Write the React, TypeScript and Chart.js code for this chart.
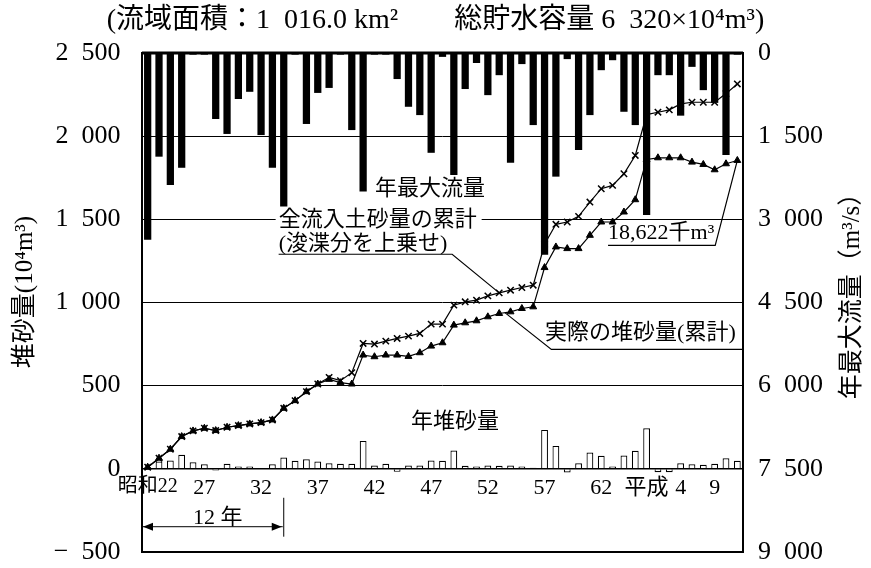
import { useEffect, useRef } from 'react';
import { Chart, registerables } from 'chart.js';

Chart.register(...registerables);

const SERIF = "'Liberation Serif', 'Noto Sans CJK JP', serif";

const categories = [
  '1947', '1948', '1949', '1950', '1951', '1952', '1953', '1954', '1955', '1956',
  '1957', '1958', '1959', '1960', '1961', '1962', '1963', '1964', '1965', '1966',
  '1967', '1968', '1969', '1970', '1971', '1972', '1973', '1974', '1975', '1976',
  '1977', '1978', '1979', '1980', '1981', '1982', '1983', '1984', '1985', '1986',
  '1987', '1988', '1989', '1990', '1991', '1992', '1993', '1994', '1995', '1996',
  '1997', '1998', '1999',
];

const xTickLabels = [
  '昭和22', '', '', '', '', '27', '', '', '', '',
  '32', '', '', '', '', '37', '', '', '', '',
  '42', '', '', '', '', '47', '', '', '', '',
  '52', '', '', '', '', '57', '', '', '', '',
  '62', '', '', '', '平成', '', '', '4', '', '',
  '9', '', '',
];

// 年最大流量 (m3/s)
const maxFlow = [
  3370, 1870, 2380, 2070, 30, 30, 1190, 1460, 830, 700,
  1480, 2070, 2770, 30, 1280, 720, 630, 30, 1390, 2500,
  30, 30, 470, 970, 1120, 1800, 70, 2200, 650, 180,
  760, 400, 1980, 200, 1300, 3640, 2230, 110, 1750, 1120,
  310, 130, 1060, 1300, 2920, 400, 400, 1130, 250, 670,
  900, 1840, 30,
];

// 全流入土砂量の累計（浚渫分を上乗せ） (10^4 m3)
const cumTotal = [
  10, 64, 118, 194, 228, 244, 230, 250, 260, 270,
  278, 294, 364, 410, 464, 510, 550, 530, 578, 754,
  750, 768, 784, 798, 814, 870, 870, 984, 1004, 1014,
  1040, 1058, 1074, 1090, 1104, 1350, 1470, 1484, 1518, 1604,
  1684, 1704, 1774, 1884, 2130, 2144, 2158, 2194, 2204, 2204,
  2204, 2256, 2314,
];

// 実際の堆砂量（累計） (10^4 m3)
const cumActual = [
  10, 64, 118, 194, 228, 244, 230, 250, 260, 270,
  278, 294, 364, 410, 464, 510, 538, 518, 510, 684,
  674, 684, 684, 676, 698, 738, 758, 864, 878, 890,
  914, 934, 944, 964, 974, 1210, 1334, 1324, 1324, 1404,
  1484, 1484, 1544, 1618, 1860, 1870, 1870, 1870, 1844, 1830,
  1798, 1834, 1854,
];

// 年堆砂量 (10^4 m3)
const annualSed = [
  10, 44, 50, 84, 40, 28, -10, 30, 14, 14,
  0, 28, 68, 48, 58, 44, 34, 30, 30, 168,
  20, 30, -18, 20, 20, 50, 48, 110, 18, 14,
  20, 18, 20, 14, 6, 234, 138, -22, 34, 98,
  78, 14, 80, 108, 244, -20, -20, 34, 28, 24,
  30, 64, 48,
];

const GAP = '  ';

const fmtNum = (v: number) => {
  const a = Math.abs(v);
  let s: string;
  if (a >= 1000) {
    const r = a % 1000;
    s = Math.floor(a / 1000) + GAP + String(r).padStart(3, '0');
  } else {
    s = String(a);
  }
  return v < 0 ? '\u2212' + GAP + s : s;
};

const annotPlugin = {
  id: 'annot',
  afterDatasetsDraw(chart: any) {
    const { ctx, chartArea: ca } = chart;
    const xs = chart.scales.x;
    const ys = chart.scales.y;
    const px = (i: number) => xs.getPixelForValue(i);
    const py = (v: number) => ys.getPixelForValue(v);
    ctx.save();
    ctx.strokeStyle = '#000';
    ctx.fillStyle = '#000';

    // zero line
    ctx.lineWidth = 1.5;
    ctx.beginPath();
    ctx.moveTo(ca.left, py(0));
    ctx.lineTo(ca.right, py(0));
    ctx.stroke();

    // frame
    ctx.lineWidth = 2;
    ctx.strokeRect(ca.left, ca.top, ca.right - ca.left, ca.bottom - ca.top);
    ctx.lineWidth = 3;
    ctx.beginPath();
    ctx.moveTo(ca.left, ca.top);
    ctx.lineTo(ca.right, ca.top);
    ctx.stroke();

    ctx.font = `22px ${SERIF}`;
    ctx.textBaseline = 'middle';
    ctx.lineWidth = 1.2;

    // 年最大流量
    ctx.textAlign = 'center';
    ctx.fillText('年最大流量', px(24.9), py(1680));

    // 全流入土砂量の累計
    ctx.textAlign = 'left';
    const t1 = '全流入土砂量の累計';
    const w1 = ctx.measureText(t1).width;
    const x1 = px(11.55);
    ctx.fillStyle = '#fff';
    ctx.fillRect(x1 - 3, py(1495) - 12, w1 + 8, 24);
    ctx.fillStyle = '#000';
    ctx.fillText(t1, x1, py(1495));
    ctx.fillText('(浚渫分を上乗せ)', x1, py(1350));
    ctx.beginPath();
    ctx.moveTo(x1, py(1290));
    ctx.lineTo(px(26.85), py(1290));
    ctx.lineTo(px(31), py(cumTotal[31]));
    ctx.stroke();

    // 実際の堆砂量(累計)
    ctx.fillText('実際の堆砂量(累計)', px(35.05), py(816));
    ctx.beginPath();
    ctx.moveTo(px(31.5), py((cumActual[31] + cumActual[32]) / 2));
    ctx.lineTo(px(35.6), py(718));
    ctx.lineTo(ca.right, py(718));
    ctx.stroke();

    // 18,622千m3
    ctx.fillText('18,622千m³', px(40.6), py(1416));
    ctx.beginPath();
    ctx.moveTo(px(40.6), py(1344));
    ctx.lineTo(px(50.05), py(1344));
    ctx.lineTo(px(52), py(cumActual[52]));
    ctx.stroke();

    // 年堆砂量
    ctx.textAlign = 'center';
    ctx.fillText('年堆砂量', px(27.1), py(282));

    // 12年 arrow
    const xl = ca.left;
    const xr = px(12);
    const ay = py(-348);
    ctx.fillText('12 年', (xl + xr) / 2 + 5, py(-294));
    ctx.lineWidth = 1;
    ctx.beginPath();
    ctx.moveTo(xl, ay);
    ctx.lineTo(xr - 1, ay);
    ctx.moveTo(xr, py(-174));
    ctx.lineTo(xr, py(-408));
    ctx.stroke();
    const head = (x: number, dir: number) => {
      ctx.beginPath();
      ctx.moveTo(x, ay);
      ctx.lineTo(x + dir * 10, ay - 4);
      ctx.lineTo(x + dir * 10, ay + 4);
      ctx.closePath();
      ctx.fill();
    };
    head(xl + 1, 1);
    head(xr - 2, -1);

    // axis titles
    ctx.font = `25px ${SERIF}`;
    const vtext = (t: string, x: number, y: number) => {
      ctx.save();
      ctx.translate(x, y);
      ctx.rotate(-Math.PI / 2);
      ctx.textAlign = 'center';
      ctx.textBaseline = 'middle';
      ctx.fillText(t, 0, 0);
      ctx.restore();
    };
    vtext('堆砂量(10⁴m³)', 25, 292);
    vtext('年最大流量（m³/s）', 852, 290);

    ctx.restore();
  },
};

export default function App() {
  const ref = useRef<HTMLCanvasElement | null>(null);

  useEffect(() => {
    if (!ref.current) return;
    const chart = new Chart(ref.current, {
      type: 'bar',
      data: {
        labels: categories,
        datasets: [
          {
            type: 'bar',
            label: '年最大流量',
            data: maxFlow,
            yAxisID: 'y1',
            backgroundColor: '#000',
            borderWidth: 0,
            grouped: false,
            barPercentage: 0.64,
            categoryPercentage: 1,
            order: 0,
          } as any,
          {
            type: 'line',
            label: '全流入土砂量の累計',
            data: cumTotal,
            yAxisID: 'y',
            borderColor: '#000',
            borderWidth: 1.2,
            backgroundColor: '#000',
            pointStyle: 'crossRot',
            pointRadius: 4.5,
            pointBorderWidth: 1.5,
            pointBorderColor: '#000',
            tension: 0,
            order: 1,
          } as any,
          {
            type: 'line',
            label: '実際の堆砂量(累計)',
            data: cumActual,
            yAxisID: 'y',
            borderColor: '#000',
            borderWidth: 1.2,
            backgroundColor: '#000',
            pointStyle: 'triangle',
            pointRadius: 4,
            pointBorderWidth: 1,
            pointBackgroundColor: '#000',
            pointBorderColor: '#000',
            tension: 0,
            order: 1,
          } as any,
          {
            type: 'bar',
            label: '年堆砂量',
            data: annualSed,
            yAxisID: 'y',
            backgroundColor: '#fff',
            borderColor: '#000',
            borderWidth: 1.2,
            grouped: false,
            barPercentage: 0.6,
            categoryPercentage: 1,
            order: 2,
          } as any,
        ],
      },
      options: {
        responsive: true,
        maintainAspectRatio: false,
        animation: false,
        layout: { padding: { left: 0, right: 0, top: 0, bottom: 16 } },
        plugins: {
          legend: { display: false },
          tooltip: { enabled: false },
          title: {
            display: true,
            text: '(流域面積：1  016.0 km²　　総貯水容量 6  320×10⁴m³)',
            color: '#000',
            font: { family: SERIF, size: 28, weight: 'normal' as any, lineHeight: 1.2 },
            padding: { top: 4, bottom: 15.4 },
          },
        },
        scales: {
          x: {
            type: 'category',
            position: { y: 0 } as any,
            offset: true,
            grid: { display: false, drawTicks: false },
            border: { display: false },
            ticks: {
              autoSkip: false,
              maxRotation: 0,
              minRotation: 0,
              padding: 6,
              color: '#000',
              font: (c: any) => ({ family: SERIF, size: c.index === 0 ? 20 : 22 }),
              callback: (_v: any, i: number) => xTickLabels[i],
            },
          },
          y: {
            position: 'left',
            min: -500,
            max: 2500,
            ticks: {
              stepSize: 500,
              padding: 2,
              color: '#000',
              font: { family: SERIF, size: 26, lineHeight: 1 },
              callback: (v: any) => fmtNum(Number(v)) + '   ',
            },
            grid: {
              color: (c: any) =>
                c.tick && c.tick.value >= 0 && c.tick.value <= 2000 ? '#000' : 'rgba(0,0,0,0)',
              lineWidth: 1,
              drawTicks: false,
            },
            border: { display: false },
            afterFit: (s: any) => {
              s.width = 142;
            },
          },
          y1: {
            position: 'right',
            reverse: true,
            min: 0,
            max: 9000,
            ticks: {
              stepSize: 1500,
              padding: 2,
              color: '#000',
              font: { family: SERIF, size: 26, lineHeight: 1 },
              callback: (v: any) => '  ' + fmtNum(Number(v)),
            },
            grid: { display: false, drawTicks: false },
            border: { display: false },
            afterFit: (s: any) => {
              s.width = 128;
            },
          },
        },
      } as any,
      plugins: [annotPlugin],
    });
    return () => chart.destroy();
  }, []);

  return (
    <div style={{ position: 'absolute', left: 0, top: 0, width: 871, height: 568, background: '#fff' }}>
      <canvas ref={ref} />
    </div>
  );
}
